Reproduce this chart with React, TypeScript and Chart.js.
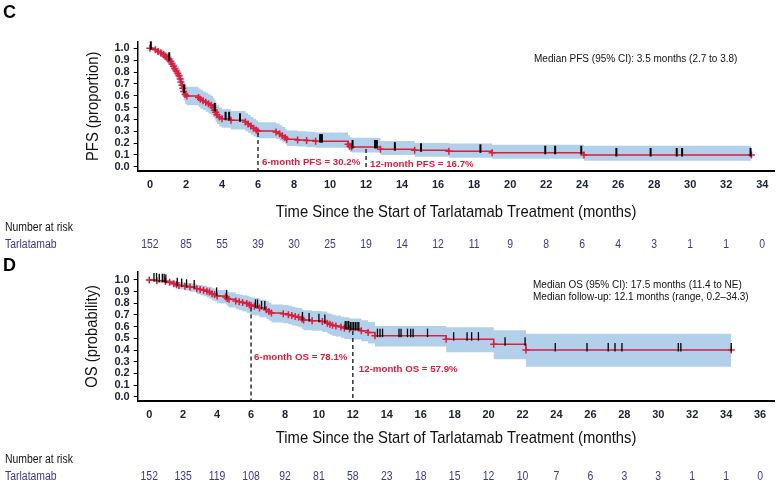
import React, { useEffect, useRef } from "react";
import { Chart, registerables } from "chart.js";
Chart.register(...registerables);

// ---------------- Panel C : PFS ----------------
const pfsTimes = [0, 0.3, 0.45, 0.6, 0.75, 0.85, 0.95, 1.05, 1.15, 1.22, 1.3, 1.38, 1.45, 1.55, 1.62, 1.68, 1.72, 1.78, 1.82, 1.87, 1.95, 2.05, 2.7, 2.8, 2.95, 3.1, 3.25, 3.4, 3.5, 3.58, 3.65, 3.72, 3.85, 4.0, 4.5, 5.3, 5.45, 5.6, 5.75, 5.9, 6.0, 7.0, 7.2, 7.35, 7.5, 7.6, 8.2, 8.7, 9.2, 11.0, 11.1, 11.2, 12.8, 14.7, 16.6, 19.0, 24.1, 33.4];
const pfsSurv = [1.0, 0.987, 0.974, 0.961, 0.947, 0.934, 0.921, 0.908, 0.888, 0.868, 0.848, 0.828, 0.808, 0.788, 0.768, 0.742, 0.715, 0.689, 0.662, 0.636, 0.61, 0.597, 0.584, 0.571, 0.558, 0.545, 0.532, 0.519, 0.5, 0.48, 0.46, 0.44, 0.42, 0.405, 0.392, 0.378, 0.36, 0.343, 0.326, 0.31, 0.302, 0.294, 0.278, 0.262, 0.246, 0.232, 0.226, 0.221, 0.216, 0.19, 0.174, 0.167, 0.148, 0.139, 0.13, 0.118, 0.099, 0.099];
const pfsLower = [1.0, 0.96, 0.94, 0.925, 0.905, 0.89, 0.875, 0.86, 0.835, 0.81, 0.79, 0.765, 0.745, 0.72, 0.7, 0.67, 0.645, 0.615, 0.59, 0.56, 0.53, 0.52, 0.505, 0.49, 0.48, 0.465, 0.45, 0.44, 0.42, 0.4, 0.38, 0.36, 0.34, 0.33, 0.315, 0.3, 0.285, 0.27, 0.255, 0.245, 0.24, 0.235, 0.22, 0.205, 0.19, 0.175, 0.17, 0.165, 0.16, 0.14, 0.125, 0.12, 0.1, 0.085, 0.075, 0.068, 0.05, 0.05];
const pfsUpper = [1.0, 1.0, 0.995, 0.99, 0.98, 0.97, 0.96, 0.95, 0.935, 0.92, 0.9, 0.885, 0.865, 0.85, 0.83, 0.81, 0.785, 0.76, 0.735, 0.71, 0.685, 0.675, 0.66, 0.65, 0.635, 0.625, 0.61, 0.6, 0.58, 0.56, 0.54, 0.52, 0.5, 0.485, 0.47, 0.455, 0.44, 0.42, 0.405, 0.39, 0.375, 0.365, 0.35, 0.335, 0.32, 0.305, 0.3, 0.295, 0.29, 0.265, 0.25, 0.245, 0.218, 0.2, 0.196, 0.185, 0.177, 0.177];
const pfsCensor = [0.05, 1.07, 1.9, 3.6, 4.2, 4.4, 5.0, 9.45, 9.55, 11.25, 12.5, 12.6, 13.6, 15.05, 18.35, 21.95, 22.5, 23.95, 25.9, 27.8, 29.25, 29.55, 33.35];
const pfsXTicks = [0, 2, 4, 6, 8, 10, 12, 14, 16, 18, 20, 22, 24, 26, 28, 30, 32, 34];
const pfsRiskTimes = [0, 2, 4, 6, 8, 10, 12, 14, 16, 18, 20, 22, 24, 26, 28, 30, 32, 34];
const pfsRisk = [152, 85, 55, 39, 30, 25, 19, 14, 12, 11, 9, 8, 6, 4, 3, 1, 1, 0];

// ---------------- Panel D : OS ----------------
const osTimes = [0, 0.45, 0.95, 1.2, 1.45, 1.6, 1.75, 2.1, 2.4, 2.8, 3.0, 3.2, 3.4, 3.55, 3.7, 3.85, 4.0, 4.5, 4.6, 4.7, 5.1, 5.3, 5.5, 5.75, 5.9, 6.0, 6.2, 6.5, 6.9, 7.05, 7.2, 7.9, 8.2, 8.4, 8.6, 8.8, 9.0, 9.1, 9.6, 10.2, 10.5, 10.65, 10.8, 11.0, 11.3, 11.5, 11.8, 12.5, 12.9, 13.3, 17.5, 20.3, 22.2, 34.3];
const osSurv = [1.0, 0.993, 0.987, 0.98, 0.967, 0.96, 0.953, 0.946, 0.939, 0.925, 0.918, 0.911, 0.904, 0.897, 0.883, 0.876, 0.862, 0.855, 0.841, 0.834, 0.82, 0.813, 0.806, 0.799, 0.788, 0.781, 0.774, 0.76, 0.745, 0.731, 0.717, 0.71, 0.703, 0.696, 0.688, 0.681, 0.666, 0.658, 0.651, 0.644, 0.629, 0.621, 0.613, 0.605, 0.597, 0.589, 0.579, 0.565, 0.549, 0.523, 0.493, 0.45, 0.401, 0.401];
const osLower = [1.0, 0.975, 0.965, 0.955, 0.94, 0.93, 0.92, 0.91, 0.9, 0.88, 0.87, 0.86, 0.85, 0.84, 0.825, 0.815, 0.8, 0.79, 0.775, 0.765, 0.75, 0.74, 0.73, 0.72, 0.71, 0.7, 0.695, 0.68, 0.665, 0.65, 0.635, 0.63, 0.62, 0.61, 0.605, 0.595, 0.58, 0.57, 0.565, 0.555, 0.54, 0.53, 0.52, 0.515, 0.505, 0.495, 0.49, 0.475, 0.455, 0.43, 0.38, 0.32, 0.257, 0.257];
const osUpper = [1.0, 1.0, 1.0, 0.998, 0.99, 0.985, 0.98, 0.975, 0.97, 0.96, 0.955, 0.95, 0.945, 0.94, 0.93, 0.925, 0.915, 0.91, 0.9, 0.895, 0.88, 0.875, 0.87, 0.865, 0.855, 0.85, 0.845, 0.83, 0.82, 0.805, 0.79, 0.785, 0.78, 0.77, 0.765, 0.76, 0.745, 0.74, 0.735, 0.73, 0.715, 0.71, 0.7, 0.695, 0.685, 0.68, 0.67, 0.655, 0.64, 0.605, 0.595, 0.57, 0.54, 0.54];
const osCensor = [0.28, 0.43, 0.59, 0.77, 0.88, 0.98, 1.65, 1.91, 2.2, 2.65, 3.97, 4.56, 6.26, 6.38, 6.62, 6.81, 9.03, 9.42, 10.0, 10.35, 11.55, 11.65, 11.75, 11.85, 11.95, 12.05, 12.15, 12.25, 12.35, 13.45, 13.6, 13.75, 14.72, 14.84, 15.22, 15.41, 15.55, 16.4, 17.94, 18.73, 19.0, 19.4, 20.97, 22.15, 23.93, 25.8, 27.05, 27.45, 27.86, 31.18, 31.33, 34.3];
const osXTicks = [0, 2, 4, 6, 8, 10, 12, 14, 16, 18, 20, 22, 24, 26, 28, 30, 32, 34, 36];
const osRiskTimes = [0, 2, 4, 6, 8, 10, 12, 14, 16, 18, 20, 22, 24, 26, 28, 30, 32, 34, 36];
const osRisk = [152, 135, 119, 108, 92, 81, 58, 23, 18, 15, 12, 10, 7, 6, 3, 3, 1, 1, 0];

const yTicks = [0, 0.1, 0.2, 0.3, 0.4, 0.5, 0.6, 0.7, 0.8, 0.9, 1.0];
const xTitle = "Time Since the Start of Tarlatamab Treatment (months)";

// ---------------- styles ----------------
const RED = "#dc1d3c";
const BAND = "#b3d0ea";
const RISK = "#3a3a94";
const TICK = "#1c2230";
const SANS = '"Liberation Sans", Arial, sans-serif';
const NARROW_SCALE = 0.87;

type Label = { text: string; x: number; dx: number; y: number };
type PanelCfg = {
  letter: string; letterY: number;
  times: number[]; surv: number[]; lower: number[]; upper: number[];
  censor: number[]; censorWidth: number;
  xTicks: number[]; xMin: number; xMax: number; yMin: number; yMax: number;
  yTitle: string;
  riskTimes: number[]; risk: number[];
  landmarks: number[]; labels: Label[];
  median: string[]; medianX: number; medianY: number;
  height: number; areaTop: number; areaBottom: number; areaRight: number;
  titleY: number; riskHeadY: number; riskRowY: number; yTitleX: number;
};

const panelC: PanelCfg = {
  letter: "C", letterY: 13.5,
  times: pfsTimes, surv: pfsSurv, lower: pfsLower, upper: pfsUpper,
  censor: pfsCensor, censorWidth: 2,
  xTicks: pfsXTicks, xMin: -0.68, xMax: 34.68, yMin: -0.036, yMax: 1.056,
  yTitle: "PFS (proportion)",
  riskTimes: pfsRiskTimes, risk: pfsRisk,
  landmarks: [6, 12],
  labels: [
    { text: "6-month PFS = 30.2%", x: 6, dx: 4, y: 0.037 },
    { text: "12-month PFS = 16.7%", x: 12, dx: 4, y: 0.022 },
  ],
  median: ["Median PFS (95% CI): 3.5 months (2.7 to 3.8)"], medianX: 534, medianY: 59,
  height: 250, areaTop: 41.7, areaBottom: 171, areaRight: 777,
  titleY: 212, riskHeadY: 228, riskRowY: 245, yTitleX: 93,
};

const panelD: PanelCfg = {
  letter: "D", letterY: 16.5,
  times: osTimes, surv: osSurv, lower: osLower, upper: osUpper,
  censor: osCensor, censorWidth: 1.3,
  xTicks: osXTicks, xMin: -0.68, xMax: 36.85, yMin: -0.037, yMax: 1.071,
  yTitle: "OS (probability)",
  riskTimes: osRiskTimes, risk: osRisk,
  landmarks: [6, 12],
  labels: [
    { text: "6-month OS = 78.1%", x: 6, dx: 3, y: 0.34 },
    { text: "12-month OS = 57.9%", x: 12, dx: 6, y: 0.235 },
  ],
  median: [
    "Median OS (95% CI): 17.5 months (11.4 to NE)",
    "Median follow-up: 12.1 months (range, 0.2\u201334.3)",
  ],
  medianX: 533, medianY: 35,
  height: 240, areaTop: 21.7, areaBottom: 151, areaRight: 775,
  titleY: 188, riskHeadY: 210, riskRowY: 227, yTitleX: 92,
};

function stepAt(times: number[], vals: number[], t: number): number {
  let v = vals[0];
  for (let i = 0; i < times.length; i++) {
    if (times[i] <= t) v = vals[i];
    else break;
  }
  return v;
}

function narrowText(ctx: CanvasRenderingContext2D, text: string, x: number, y: number, rot = 0) {
  ctx.save();
  ctx.translate(x, y);
  if (rot) ctx.rotate(rot);
  ctx.scale(NARROW_SCALE, 1);
  ctx.fillText(text, 0, 0);
  ctx.restore();
}

const kmPlugin = {
  id: "km",
  afterDatasetsDraw(chart: any, _a: any, opts: any) {
    const p: PanelCfg = opts.panel;
    const ctx = chart.ctx;
    const xs = chart.scales.x;
    const ys = chart.scales.y;
    const bottom = chart.chartArea.bottom;
    ctx.save();
    ctx.setLineDash([4, 3]);
    ctx.strokeStyle = "#111";
    ctx.lineWidth = 1.3;
    p.landmarks.forEach((m) => {
      const x = xs.getPixelForValue(m);
      const y = ys.getPixelForValue(stepAt(p.times, p.surv, m));
      ctx.beginPath();
      ctx.moveTo(x, y + 2);
      ctx.lineTo(x, bottom);
      ctx.stroke();
    });
    ctx.restore();
    ctx.save();
    ctx.strokeStyle = "#000";
    ctx.lineWidth = p.censorWidth;
    p.censor.forEach((t) => {
      const x = xs.getPixelForValue(t);
      const y = ys.getPixelForValue(stepAt(p.times, p.surv, t));
      ctx.beginPath();
      ctx.moveTo(x, y - 7);
      ctx.lineTo(x, y + 1.5);
      ctx.stroke();
    });
    ctx.restore();
  },
  afterDraw(chart: any, _a: any, opts: any) {
    const p: PanelCfg = opts.panel;
    const ctx = chart.ctx;
    const xs = chart.scales.x;
    const ys = chart.scales.y;
    const area = chart.chartArea;
    ctx.save();
    ctx.textBaseline = "middle";
    // panel letter
    ctx.fillStyle = "#000";
    ctx.font = `bold 18px ${SANS}`;
    ctx.textAlign = "left";
    ctx.fillText(p.letter, 3, p.letterY);
    // landmark labels
    ctx.fillStyle = RED;
    ctx.font = `bold 9.7px ${SANS}`;
    p.labels.forEach((l) => {
      ctx.fillText(l.text, xs.getPixelForValue(l.x) + l.dx, ys.getPixelForValue(l.y));
    });
    // median text
    ctx.fillStyle = "#111";
    ctx.font = `10px ${SANS}`;
    p.median.forEach((s, i) => ctx.fillText(s, p.medianX, p.medianY + i * 12.7));
    // axis titles (condensed)
    ctx.fillStyle = "#111";
    ctx.font = `17px ${SANS}`;
    ctx.textAlign = "center";
    narrowText(ctx, xTitle, (area.left + area.right) / 2, p.titleY);
    narrowText(ctx, p.yTitle, p.yTitleX, (area.top + area.bottom) / 2, -Math.PI / 2);
    // number at risk
    ctx.textAlign = "left";
    ctx.font = `12px ${SANS}`;
    ctx.fillStyle = "#111";
    narrowText(ctx, "Number at risk", 5, p.riskHeadY);
    ctx.fillStyle = RISK;
    narrowText(ctx, "Tarlatamab", 5, p.riskRowY);
    ctx.textAlign = "center";
    p.riskTimes.forEach((t, i) => {
      narrowText(ctx, String(p.risk[i]), xs.getPixelForValue(t), p.riskRowY);
    });
    ctx.restore();
  },
};

function KMPanel({ cfg, top }: { cfg: PanelCfg; top: number }) {
  const ref = useRef<HTMLCanvasElement | null>(null);
  useEffect(() => {
    if (!ref.current) return;
    const curve = cfg.times.map((t, i) => ({ x: t, y: cfg.surv[i] }));
    const up = cfg.times.map((t, i) => ({ x: t, y: cfg.upper[i] }));
    const lo = cfg.times.map((t, i) => ({ x: t, y: cfg.lower[i] }));
    const chart = new Chart(ref.current, {
      type: "line",
      data: {
        datasets: [
          {
            data: curve,
            stepped: true,
            borderColor: RED,
            borderWidth: 1.5,
            pointStyle: "cross",
            pointRadius: 3.5,
            pointBorderColor: RED,
            pointBorderWidth: 1.5,
            fill: false,
            order: 0,
          } as any,
          {
            data: up,
            stepped: true,
            borderWidth: 0,
            borderColor: "rgba(0,0,0,0)",
            pointRadius: 0,
            backgroundColor: BAND,
            fill: "+1",
            order: 2,
          } as any,
          {
            data: lo,
            stepped: true,
            borderWidth: 0,
            borderColor: "rgba(0,0,0,0)",
            pointRadius: 0,
            fill: false,
            order: 3,
          } as any,
        ],
      },
      options: {
        responsive: false,
        animation: false,
        events: [],
        parsing: false as any,
        layout: {
          padding: { left: 77.7, right: 780 - cfg.areaRight, top: cfg.areaTop, bottom: 0 },
        },
        plugins: {
          legend: { display: false },
          tooltip: { enabled: false },
          km: { panel: cfg },
        } as any,
        scales: {
          x: {
            type: "linear",
            min: cfg.xMin,
            max: cfg.xMax,
            afterBuildTicks: (s: any) => {
              s.ticks = cfg.xTicks.map((v) => ({ value: v }));
            },
            afterFit: (s: any) => {
              s.height = cfg.height - cfg.areaBottom;
            },
            grid: { display: false, drawTicks: false },
            border: { display: true, color: "#000", width: 2 },
            ticks: {
              autoSkip: false,
              maxRotation: 0,
              padding: 7,
              color: TICK,
              font: { family: SANS, size: 11, weight: "bold" },
              callback: (v: any) => String(v),
            },
          },
          y: {
            type: "linear",
            min: cfg.yMin,
            max: cfg.yMax,
            afterBuildTicks: (s: any) => {
              s.ticks = yTicks.map((v) => ({ value: v }));
            },
            afterFit: (s: any) => {
              s.width = 60;
            },
            grid: { drawOnChartArea: false, drawTicks: true, tickLength: 4, color: "#000", lineWidth: 1 },
            border: { display: true, color: "#000", width: 1.5 },
            ticks: {
              autoSkip: false,
              padding: 4,
              color: TICK,
              font: { family: SANS, size: 11, weight: "bold" },
              callback: (v: any) => Number(v).toFixed(1),
            },
          },
        },
      } as any,
      plugins: [kmPlugin as any],
    });
    return () => chart.destroy();
  }, [cfg]);
  return (
    <canvas
      ref={ref}
      width={780}
      height={cfg.height}
      style={{ position: "absolute", left: 0, top, width: 780, height: cfg.height }}
    />
  );
}

export default function App() {
  return (
    <div style={{ position: "fixed", left: 0, top: 0, width: 780, height: 490, background: "#fff", overflow: "hidden" }}>
      <KMPanel cfg={panelC} top={0} />
      <KMPanel cfg={panelD} top={250} />
    </div>
  );
}
